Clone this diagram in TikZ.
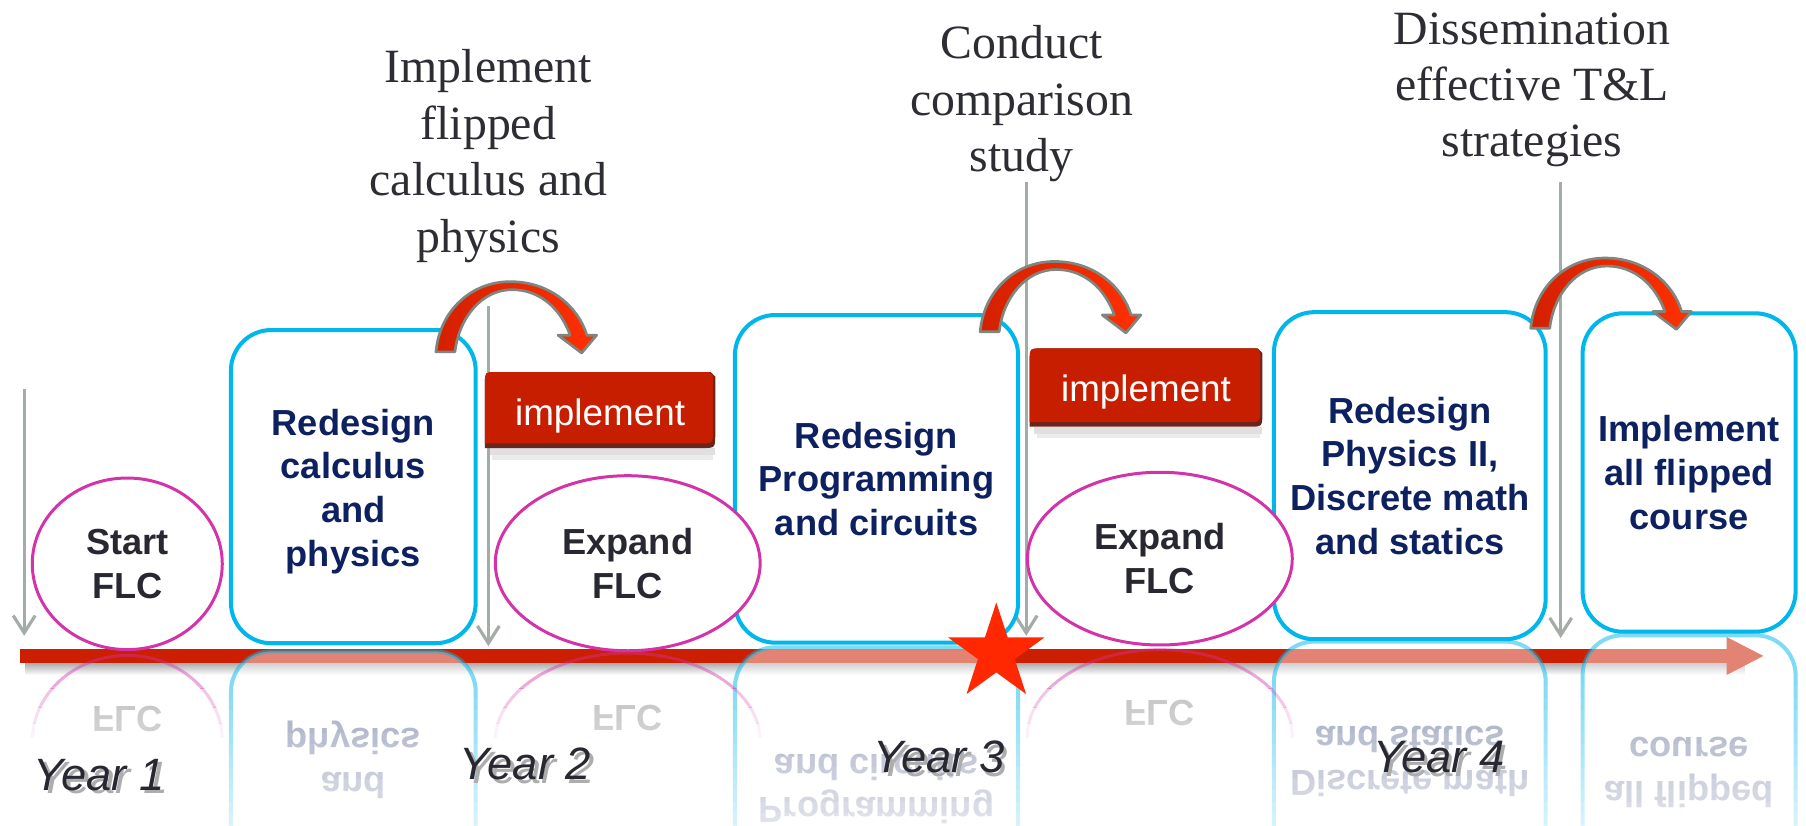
\documentclass[tikz,border=0pt]{standalone}
\usepackage{fontspec}
\setmainfont{Liberation Serif}
\newfontfamily\arialf{Liberation Sans}
\usetikzlibrary{shapes.geometric,arrows.meta}
\definecolor{cyanbox}{RGB}{0,183,235}
\definecolor{magentac}{RGB}{212,50,168}
\definecolor{navy}{RGB}{13,32,96}
\definecolor{darktext}{RGB}{40,40,50}
\definecolor{greyarrow}{RGB}{164,172,167}
\definecolor{barred}{RGB}{204,30,0}
\definecolor{impred}{RGB}{200,30,0}
\definecolor{impdark}{RGB}{105,38,28}
\definecolor{starred}{RGB}{255,40,0}
\definecolor{serifgrey}{RGB}{45,45,52}
\definecolor{arroutline}{RGB}{125,135,128}
\definecolor{arrowdark}{RGB}{212,32,0}
\definecolor{arrowbright}{RGB}{255,48,0}
\newcommand\boxfont{\arialf\bfseries\fontsize{17.9}{21.6}\selectfont}
\newcommand\impfont{\arialf\fontsize{18.2}{21}\selectfont}
\newcommand\topfont{\fontsize{23.6}{27.9}\selectfont}
\newcommand\yearfont{\arialf\itshape\fontsize{22.4}{26}\selectfont}
\newcommand\mirrorat[2]{\begin{scope}[shift={(0,#1*2)}, yscale=-1, transform shape]#2\end{scope}}
\newcommand\shadowed[1]{\makebox[0pt][l]{\hspace{1.8pt}\raisebox{-1.8pt}{\textcolor{black!32}{#1}}}#1}
\newcommand\impshape[4]{%
  \fill[black, opacity=0.12] (#1+4,#4) rectangle (#3,#4+6);
  \fill[black, opacity=0.08] (#1+6,#4+6) rectangle (#3-2,#4+10);
  \fill[impdark] (#1,#4) -- (#1,#2+10) .. controls (#1,#2) .. (#1+10,#2) -- (#3-4,#2) -- (#3,#2+4) -- (#3,#4-12) .. controls (#3,#4) .. (#3-12,#4) -- cycle;
  \fill[impred] (#1,#4-4) -- (#1,#2+10) .. controls (#1,#2) .. (#1+10,#2) -- (#3-5,#2) -- (#3-2,#2+3) -- (#3-2,#4-15) .. controls (#3-2,#4-4) .. (#3-13,#4-4) -- cycle;
}
\tikzset{
  rbox/.style={draw=cyanbox, line width=0.07cm, rounded corners=0.7cm, fill=white, align=center, text=navy, font=\boxfont, inner sep=0},
  flc/.style={ellipse, draw=magentac, line width=0.052cm, fill=white, align=center, text=darktext, font=\boxfont, inner sep=0},
  greyarr/.style={draw=greyarrow, line width=0.055cm, -{Straight Barb[length=0.3cm,width=0.38cm]}},
  toptext/.style={align=center, text=serifgrey, font=\topfont, inner sep=0},
  yearlbl/.style={anchor=base west, inner sep=0, font=\yearfont, text=darktext},
  imptext/.style={anchor=base, inner sep=0, text=white, font=\impfont},
  refl/.style={fill opacity=0.45, draw opacity=0.5},
  rtext/.style={anchor=base, inner sep=0, font=\boxfont, text=navy, text opacity=0.4},
  rflc/.style={anchor=base, inner sep=0, font=\boxfont, text=darktext, text opacity=0.28},
  curvarr/.pic={
    \path[draw=arroutline, line width=0.046cm, line join=round, left color=arrowdark, right color=arrowbright]
      (0,0) .. controls (3,-35) and (30,-61) .. (64.5,-61) .. controls (100,-61) and (124,-38) .. (131,-14.5)
      -- (139.5,-14.5) -- (126.5,1) -- (106,-14.5) -- (116.5,-14.5)
      .. controls (108,-38) and (90,-54) .. (66,-54) .. controls (40,-54) and (20,-30) .. (16.5,0) -- cycle;
  }
}
\begin{document}
\begin{tikzpicture}[x=0.02cm, y=-0.02cm]
\useasboundingbox (0,0) rectangle (1568,717);
\fill[white] (0,0) rectangle (1568,717);
\begin{scope}
\clip (0,0) rectangle (1568,717);
% shadow under the time line
\shade[top color=black!35, bottom color=white] (22,575) rectangle (1515,586);
% time line
\coordinate (bar0) at (17,569.5);
\coordinate (bar1) at (1531,569.5);
\fill[barred] (17,563.5) rectangle (1500,575.5);
\fill[barred] (1499,553) -- (bar1) -- (1499,586) -- cycle;
% reflections of the boxes
\mirrorat{562}{\node[rbox, refl, minimum width=4.25cm, minimum height=5.44cm] (rb1) at (306.75,422.5) {};
  \node[rtext] (rt1a) at (306.75,491.6) {physics};
  \node[rtext] (rt1b) at (306.75,453.6) {and};}
\mirrorat{560}{\node[rbox, refl, minimum width=4.92cm, minimum height=5.69cm] (rb2) at (761,415.75) {};
  \node[rtext] (rt2a) at (761,465.2) {and circuits};
  \node[rtext] (rt2b) at (761,427.2) {Programming};}
\mirrorat{556}{\node[rbox, refl, minimum width=4.72cm, minimum height=5.68cm] (rb3) at (1224,413) {};
  \node[rtext] (rt3a) at (1224,481.4) {and statics};
  \node[rtext] (rt3b) at (1224,443.4) {Discrete math};}
\mirrorat{550}{\node[rbox, refl, minimum width=3.7cm, minimum height=5.53cm] (rb4) at (1466.5,410.25) {};
  \node[rtext] (rt4a) at (1466.5,459.7) {course};
  \node[rtext] (rt4b) at (1466.5,421.7) {all flipped};}
% reflections of the ellipses
\foreach \ya/\yb/\op in {560/598/0.42, 598/614/0.3, 614/628/0.18, 628/640/0.08} {
  \begin{scope}
    \clip (0,\ya) rectangle (1568,\yb);
    \draw[magentac, line width=0.052cm, opacity=\op] (110.5,643.5) ellipse [x radius=1.65cm, y radius=1.49cm];
    \draw[magentac, line width=0.052cm, opacity=\op] (545,643) ellipse [x radius=2.3cm, y radius=1.52cm];
    \draw[magentac, line width=0.052cm, opacity=\op] (1007,639) ellipse [x radius=2.3cm, y radius=1.5cm];
  \end{scope}
}
\mirrorat{566.5}{\node[rflc] (rf1) at (110.5,519.9) {FLC};}
\mirrorat{566}{\node[rflc] (rf2) at (545,519.4) {FLC};}
\mirrorat{562}{\node[rflc] (rf3) at (1007,515.4) {FLC};}
% fading of the reflections
\foreach \i in {0,...,13} {
  \fill[white, opacity={0.056*\i}] (0,{586+10*\i}) rectangle (1568,{596+10*\i});
}
\end{scope}
% year labels
\node[yearlbl] (y1) at (29,686) {\shadowed{Year 1}};
\node[yearlbl] (y2) at (399,677) {\shadowed{Year 2}};
\node[yearlbl] (y3) at (758,671) {\shadowed{Year 3}};
\node[yearlbl] (y4) at (1192,671) {\shadowed{Year 4}};
% grey arrows
\coordinate (g1s) at (21,338);  \coordinate (g1e) at (21,552);
\coordinate (g2s) at (424,266); \coordinate (g2e) at (424,561);
\coordinate (g3s) at (891,158); \coordinate (g3e) at (891,552);
\coordinate (g4s) at (1355,158); \coordinate (g4e) at (1355,554);
\draw[greyarr] (g1s) -- (g1e);
\draw[greyarr] (g2s) -- (g2e);
\draw[greyarr] (g3s) -- (g3e);
\draw[greyarr] (g4s) -- (g4e);
% boxes
\node[rbox, minimum width=4.25cm, minimum height=5.44cm] (b1) at (306.75,422.5) {\rule{0pt}{17.6pt}Redesign\\calculus\\and\\physics};
\node[rbox, minimum width=4.92cm, minimum height=5.69cm] (b2) at (761,415.75) {Redesign\\Programming\\and circuits};
\node[rbox, minimum width=4.72cm, minimum height=5.68cm] (b3) at (1224,413) {Redesign\\Physics II,\\Discrete math\\and statics};
\node[rbox, minimum width=3.7cm, minimum height=5.53cm] (b4) at (1466.5,410.25) {Implement\\all flipped\\course};
% ellipses
\node[flc, minimum width=3.3cm, minimum height=2.98cm] (e1) at (110.5,489.5) {Start\\FLC};
\node[flc, minimum width=4.6cm, minimum height=3.04cm] (e2) at (545,489) {Expand\\FLC};
\node[flc, minimum width=4.6cm, minimum height=3.0cm] (e3) at (1007,485) {Expand\\FLC};
% star
\node[star, star points=5, star point ratio=2.618, fill=starred, inner sep=0, minimum size=1.76cm] (redstar) at (865,567) {};
% curved arrows
\pic at (378.5,305.5) {curvarr};
\pic at (851,288) {curvarr};
\pic at (1329,285) {curvarr};
% implement boxes
\impshape{421}{323}{621}{389}
\node[imptext] (imp1) at (521,369) {implement};
\impshape{894}{302.5}{1096}{370.5}
\node[imptext] (imp2) at (995,349) {implement};
% top texts
\node[toptext] (t1) at (424,135.4) {Implement\\flipped\\calculus and\\physics};
\node[toptext] (t2) at (887,90) {Conduct\\comparison\\study};
\node[toptext] (t3) at (1330,78) {Dissemination\\effective T\&L\\strategies};
\end{tikzpicture}
\end{document}
